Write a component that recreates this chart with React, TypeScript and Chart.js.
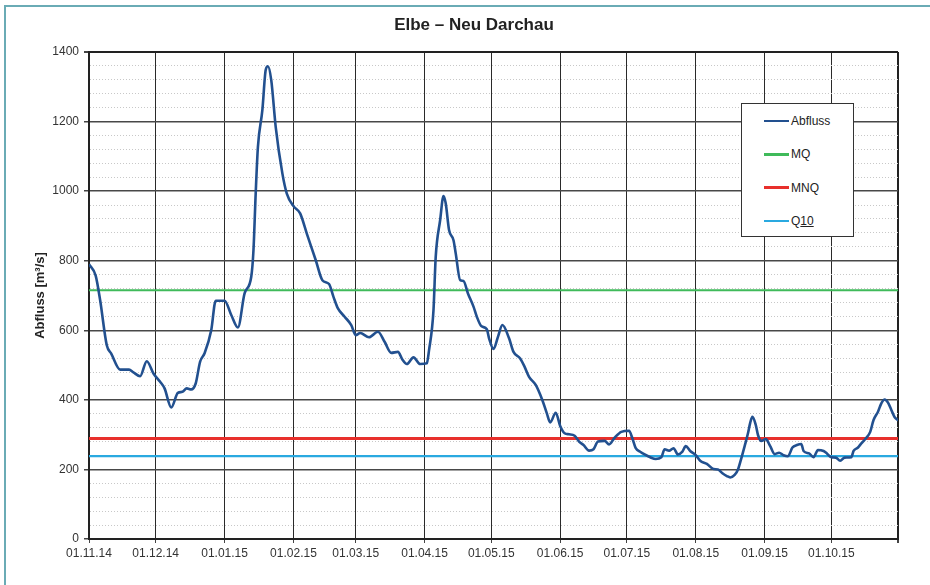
import React, { useEffect, useRef } from 'react';
import { Chart, registerables } from 'chart.js';

Chart.register(...registerables);

// Days since 01.11.14
const days = [
  0, 3, 5, 8, 10, 14, 18, 20, 23, 26, 29, 32, 34, 37, 40, 42, 44, 46, 48, 50,
  52, 55, 57, 61, 64, 67, 70, 73, 74, 75, 76, 78, 79.5, 80.5, 82, 84, 87, 89, 92, 95,
  98, 102, 105, 108, 110, 112, 115, 118, 120, 122, 126, 130, 133, 136, 139, 141, 143, 146, 149, 152,
  153, 155, 156, 158, 159.5, 160.5, 162, 164, 165, 167, 168.5, 170.5, 173, 174.5, 176.5, 179, 180, 182, 184, 186,
  189, 191, 194, 196, 198, 201, 204, 206, 207.5, 210, 212, 214, 216, 218.5, 220.5, 222.5, 225, 227, 229, 232,
  234, 236.5, 239.5, 243, 244.5, 246, 248, 250, 252.5, 255, 257.5, 259, 261, 263, 265, 267, 268.5, 270.5, 273, 275,
  278, 281, 283, 285, 287, 288.5, 290.5, 292, 293.5, 295, 296.5, 297.5, 298.5, 300, 301, 302.5, 304.5, 306.5, 308.5, 310.5,
  312.5, 314.5, 316.5, 318.5, 320.5, 321.5, 324, 326, 328, 330.5, 332, 334, 336, 338, 340, 343, 344, 346, 347.5, 349.5,
  351.5, 353, 355, 356.5, 358, 359.5, 361, 362.5, 364.5,
];

// Abfluss [m³/s]
const flow = [
  790, 757, 687, 557, 533, 487, 487, 479, 468, 511, 476, 452, 433, 378, 420, 423, 433, 430, 447, 510,
  534, 600, 685, 685, 644, 608, 706, 754, 830, 993, 1127, 1233, 1348, 1359, 1319, 1185, 1051, 993, 957, 936,
  878, 802, 744, 733, 696, 663, 639, 615, 586, 592, 580, 596, 567, 535, 538, 516, 503, 522, 503, 505,
  543, 658, 811, 917, 986, 965, 888, 859, 821, 744, 742, 706, 668, 639, 612, 603, 577, 546, 581, 615,
  577, 538, 519, 495, 466, 443, 399, 361, 335, 363, 325, 304, 301, 297, 280, 270, 254, 258, 280, 282,
  272, 291, 308, 311, 289, 261, 251, 243, 235, 230, 235, 258, 254, 261, 243, 251, 267, 253, 241, 225,
  216, 201, 200, 189, 181, 177, 184, 200, 232, 267, 304, 334, 351, 328, 299, 282, 287, 267, 244, 248,
  241, 238, 263, 270, 273, 253, 246, 235, 256, 253, 246, 235, 234, 225, 234, 235, 253, 263, 275, 289,
  308, 342, 366, 390, 401, 392, 371, 350, 340,
];

const MQ = 715;
const MNQ = 289;
const Q10 = 238;

const xStart = 0;
const xEnd = 364;

const monthTicks = [0, 30, 61, 92, 120, 151, 181, 212, 242, 273, 304, 334, 364];
const monthLabels = [
  '01.11.14', '01.12.14', '01.01.15', '01.02.15', '01.03.15', '01.04.15', '01.05.15',
  '01.06.15', '01.07.15', '01.08.15', '01.09.15', '01.10.15', '',
];

const seriesNames = ['Abfluss', 'MQ', 'MNQ', 'Q10'];
const seriesColors = ['#22508f', '#3fba5a', '#e8302c', '#2aa9e0'];

const FONT = '"Liberation Sans", Arial, Helvetica, sans-serif';

export default function App() {
  const ref = useRef<HTMLCanvasElement | null>(null);

  useEffect(() => {
    document.body.style.margin = '0';
    const canvas = ref.current;
    if (!canvas) return;
    const flat = (v: number) => [
      { x: xStart, y: v },
      { x: xEnd, y: v },
    ];
    const chart = new Chart(canvas, {
      type: 'line',
      data: {
        datasets: [
          {
            label: seriesNames[0],
            data: days.map((d, i) => ({ x: d, y: flow[i] })),
            borderColor: seriesColors[0],
            borderWidth: 2.6,
            pointRadius: 0,
            cubicInterpolationMode: 'monotone',
            fill: false,
          },
          {
            label: seriesNames[1],
            data: flat(MQ),
            borderColor: seriesColors[1],
            borderWidth: 2,
            pointRadius: 0,
            fill: false,
          },
          {
            label: seriesNames[2],
            data: flat(MNQ),
            borderColor: seriesColors[2],
            borderWidth: 3,
            pointRadius: 0,
            fill: false,
          },
          {
            label: seriesNames[3],
            data: flat(Q10),
            borderColor: seriesColors[3],
            borderWidth: 2.2,
            pointRadius: 0,
            fill: false,
          },
        ],
      },
      options: {
        animation: false,
        responsive: false,
        events: [],
        layout: { padding: { left: 0, right: 32, top: 52, bottom: 0 } },
        plugins: {
          legend: { display: false },
          tooltip: { enabled: false },
          title: { display: false },
        },
        scales: {
          x: {
            type: 'linear',
            min: xStart,
            max: xEnd,
            afterBuildTicks: (scale: any) => {
              scale.ticks = monthTicks.map((v) => ({ value: v }));
            },
            afterFit: (scale: any) => {
              scale.height = 46;
            },
            ticks: {
              autoSkip: false,
              maxRotation: 0,
              padding: 3,
              color: '#333',
              font: { family: FONT, size: 12 },
              callback: (_v: any, i: number) => monthLabels[i],
            },
            grid: {
              color: (c: any) => (c.tick && c.tick.value === xEnd ? '#222' : '#2a2a2a'),
              lineWidth: (c: any) => (c.tick && c.tick.value === xEnd ? 2 : 1),
              tickLength: 4,
              tickColor: '#444',
            },
            border: { color: '#222', width: 2 },
          },
          y: {
            min: 0,
            max: 1400,
            afterFit: (scale: any) => {
              scale.width = 89;
            },
            ticks: {
              stepSize: 40,
              autoSkip: false,
              padding: 5,
              color: '#333',
              font: { family: FONT, size: 12 },
              callback: (v: any) => (Number(v) % 200 === 0 ? String(v) : ''),
            },
            grid: {
              color: (c: any) => {
                if (!c.tick) return '#555';
                if (c.tick.value === 1400) return '#222';
                return c.tick.value % 200 === 0 ? '#484848' : '#c8c8c8';
              },
              lineWidth: (c: any) => {
                if (!c.tick) return 1;
                if (c.tick.value === 1400) return 2;
                return c.tick.value % 200 === 0 ? 1.5 : 1;
              },
              tickLength: 5,
              tickColor: (c: any) => (c.tick && c.tick.value % 200 === 0 ? '#444' : 'rgba(0,0,0,0)'),
            },
            border: {
              color: '#222',
              width: 2,
              dash: (c: any) => (c.tick && c.tick.value % 200 !== 0 ? [1, 2] : []),
            },
            title: {
              display: true,
              text: 'Abfluss [m³/s]',
              color: '#222',
              font: { family: FONT, size: 13, weight: 'bold' },
              padding: { top: 33, bottom: 0 },
            },
          },
        },
      },
    } as any);
    return () => chart.destroy();
  }, []);

  const legendRows = seriesNames.map((n, i) => (
    <div
      key={n}
      style={{
        position: 'absolute',
        left: 22,
        top: 9 + i * 33.3,
        height: 16,
        display: 'flex',
        alignItems: 'center',
      }}
    >
      <div style={{ width: 25, height: 2.5, background: seriesColors[i], marginRight: 2 }} />
      <span style={{ fontFamily: FONT, fontSize: 12, color: '#222' }}>
        {n === 'Q10' ? (
          <>
            Q<u>10</u>
          </>
        ) : (
          n
        )}
      </span>
    </div>
  ));

  return (
    <div style={{ position: 'relative', width: 930, height: 585, overflow: 'hidden', background: '#fff' }}>
      <div
        style={{
          position: 'absolute',
          left: 4,
          top: 5,
          width: 940,
          height: 600,
          border: '2px solid #6aabb5',
          boxSizing: 'border-box',
        }}
      />
      <canvas ref={ref} width={930} height={585} style={{ position: 'absolute', left: 0, top: 0 }} />
      <div
        style={{
          position: 'absolute',
          left: 0,
          width: 948,
          top: 15,
          textAlign: 'center',
          fontFamily: FONT,
          fontWeight: 'bold',
          fontSize: 17,
          color: '#222',
        }}
      >
        Elbe – Neu Darchau
      </div>
      <div
        style={{
          position: 'absolute',
          left: 741,
          top: 103,
          width: 113,
          height: 134,
          border: '1px solid #333',
          boxSizing: 'border-box',
          background: '#fff',
        }}
      >
        {legendRows}
      </div>
    </div>
  );
}
